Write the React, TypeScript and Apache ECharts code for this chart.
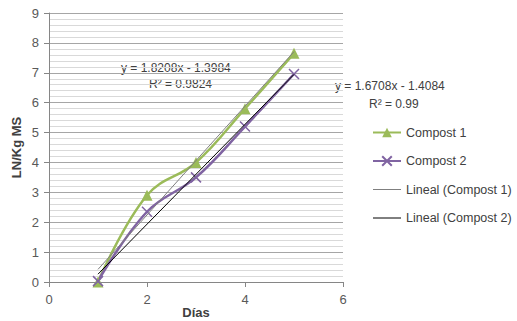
import React, { useEffect, useRef } from "react";
import * as echarts from "echarts";

const days = [1, 2, 3, 4, 5];
const compost1 = [0, 2.9, 4.0, 5.8, 7.65];
const compost2 = [0.03, 2.35, 3.5, 5.2, 6.96];
const trend1 = { slope: 1.8208, intercept: -1.3984 };
const trend2 = { slope: 1.6708, intercept: -1.4084 };
const eq1 = ["y = 1.8208x - 1.3984", "R² = 0.9824"];
const eq2 = ["y = 1.6708x - 1.4084", "R² = 0.99"];

const GREEN = "#9BBB59";
const PURPLE = "#8064A2";
const FONT = "'Liberation Sans', Arial, sans-serif";

const crossPath = "path://M0,0L10,10M10,0L0,10";

export default function App() {
  const ref = useRef<HTMLDivElement>(null);
  useEffect(() => {
    if (!ref.current) return;
    const chart = echarts.init(ref.current, undefined, { renderer: "svg" });
    const pts = (ys: number[]) => days.map((d, i) => [d, ys[i]]);
    const trendPts = (t: { slope: number; intercept: number }) => [
      [days[0], t.slope * days[0] + t.intercept],
      [days[days.length - 1], t.slope * days[days.length - 1] + t.intercept],
    ];
    chart.setOption({
      animation: false,
      backgroundColor: "#ffffff",
      textStyle: { fontFamily: FONT },
      grid: { left: 49, right: 174, top: 13, bottom: 39, outerBoundsMode: "none", containLabel: false },
      xAxis: {
        type: "value",
        min: 0,
        max: 6,
        interval: 2,
        name: "Días",
        nameLocation: "middle",
        nameGap: 24,
        nameMoveOverlap: false,
        nameTextStyle: { fontWeight: "bold", fontSize: 13, color: "#404040", fontFamily: FONT },
        axisLine: { show: true, onZero: false, lineStyle: { color: "#868686", width: 1 } },
        axisTick: { show: true, length: 5, lineStyle: { color: "#868686" } },
        axisLabel: { color: "#595959", fontSize: 13, margin: 11 },
        splitLine: { show: false },
      },
      yAxis: {
        type: "value",
        min: 0,
        max: 9,
        interval: 1,
        name: "LN/Kg MS",
        nameLocation: "middle",
        nameGap: 26,
        nameMoveOverlap: false,
        nameRotate: 90,
        nameTextStyle: { fontWeight: "bold", fontSize: 13, color: "#404040", fontFamily: FONT },
        axisLine: { show: true, lineStyle: { color: "#868686", width: 1 } },
        axisTick: { show: true, length: 5, lineStyle: { color: "#868686" } },
        axisLabel: { color: "#595959", fontSize: 13, margin: 10 },
        splitLine: { show: true, lineStyle: { color: "#a6a6a6", width: 1 } },
        minorTick: { show: false, splitNumber: 5 },
        minorSplitLine: { show: true, lineStyle: { color: "#d9d9d9", width: 1 } },
      },
      legend: {
        orient: "vertical",
        left: 367,
        top: 121,
        itemWidth: 28,
        itemHeight: 12,
        itemGap: 15.5,
        textStyle: { fontSize: 12.5, color: "#404040", fontFamily: FONT },
        data: [
          { name: "Compost 1" },
          { name: "Compost 2" },
          { name: "Lineal (Compost 1)", itemStyle: { opacity: 0 }, lineStyle: { width: 1 } },
          { name: "Lineal (Compost 2)", itemStyle: { opacity: 0 }, lineStyle: { width: 1 } },
        ],
      },
      series: [
        {
          name: "Lineal (Compost 1)",
          type: "line",
          data: trendPts(trend1),
          symbol: "none",
          lineStyle: { color: "#7f7f7f", width: 1 },
          itemStyle: { color: "#7f7f7f" },
          z: 3,
        },
        {
          name: "Lineal (Compost 2)",
          type: "line",
          data: trendPts(trend2),
          symbol: "none",
          lineStyle: { color: "#000000", width: 1 },
          itemStyle: { color: "#000000" },
          z: 3,
        },
        {
          name: "Compost 1",
          type: "line",
          data: pts(compost1),
          smooth: 0.4,
          symbol: "triangle",
          symbolSize: 11,
          lineStyle: { color: GREEN, width: 2.5 },
          itemStyle: { color: GREEN },
          z: 2,
        },
        {
          name: "Compost 2",
          type: "line",
          data: pts(compost2),
          smooth: 0.4,
          symbol: crossPath,
          symbolSize: 10,
          lineStyle: { color: PURPLE, width: 2.5 },
          itemStyle: { color: PURPLE, borderColor: PURPLE, borderWidth: 1.5 },
          z: 2,
        },
      ],
      graphic: [
        { type: "text", left: 121, top: 62, style: { text: eq1[0], fontSize: 12, fill: "#404040", fontFamily: FONT } },
        { type: "text", left: 149, top: 78, style: { text: eq1[1], fontSize: 12, fill: "#404040", fontFamily: FONT } },
        { type: "text", left: 335, top: 80, style: { text: eq2[0], fontSize: 12, fill: "#404040", fontFamily: FONT } },
        { type: "text", left: 369, top: 98, style: { text: eq2[1], fontSize: 12, fill: "#404040", fontFamily: FONT } },
      ],
    });
    return () => chart.dispose();
  }, []);
  return <div ref={ref} style={{ width: 517, height: 321, position: "absolute", left: 0, top: 0 }} />;
}
